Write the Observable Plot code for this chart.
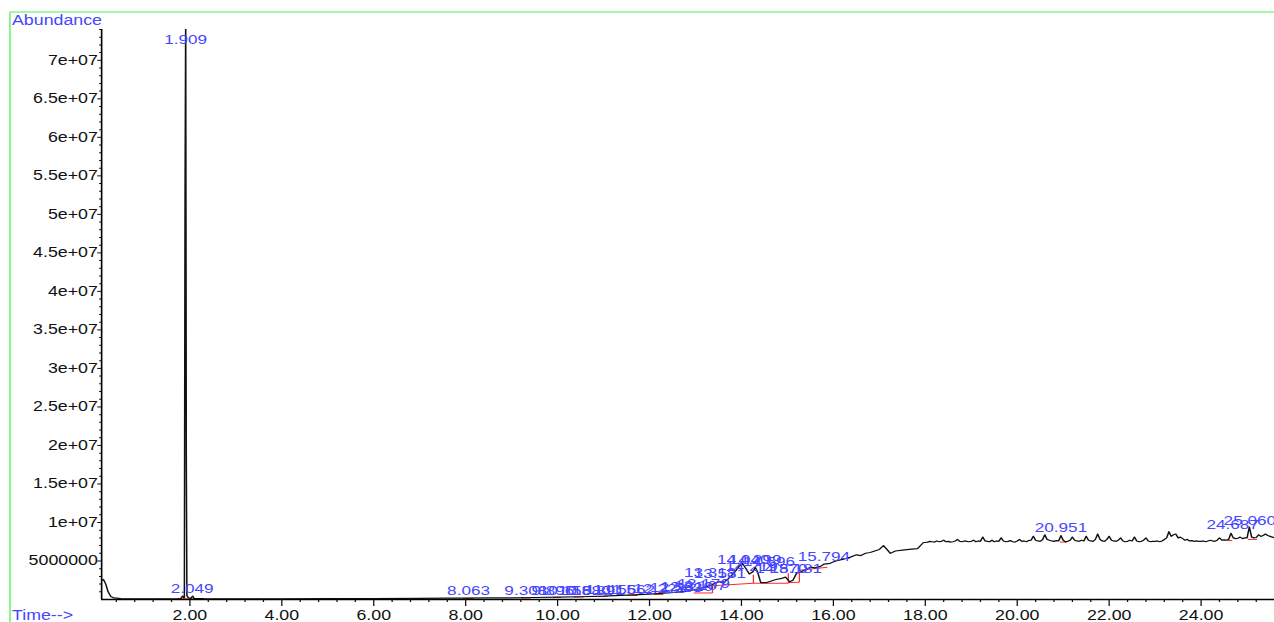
<!DOCTYPE html>
<html><head><meta charset="utf-8">
<script src="https://cdn.jsdelivr.net/npm/d3@7"></script>
<script src="https://cdn.jsdelivr.net/npm/@observablehq/plot@0.6"></script>
<style>html,body{margin:0;padding:0;background:#fff;overflow:hidden}</style>
</head><body><div id="chart"></div>
<script>
// ---- data (retention time in minutes, abundance in millions of counts) ----
const traceTime = [
  0.08,0.12,0.17,0.22,0.28,0.35,0.5,0.8,1.2,1.6,1.80,1.84,1.87,1.880,1.895,1.909,1.922,1.935,1.97,2.02,
  2.06,2.09,2.3,3.0,4.0,5.0,6.0,7.0,7.6,8.0,8.5,9.0,9.5,10.0,10.5,11.0,11.5,12.0,12.4,12.8,
  13.0,13.2,13.35,13.5,13.6,13.7,13.83,13.95,14.02,14.1,14.17,14.25,14.3,14.36,14.42,14.55,14.65,14.75,14.85,14.96,
  15.05,15.12,15.2,15.3,15.4,15.5,15.6,15.72,15.8,15.93,16.05,16.2,16.37,16.5,16.6,16.7,16.8,16.9,17.0,17.09,
  17.15,17.24,17.35,17.5,17.65,17.83,17.96,
  18.00,18.05,18.10,18.15,18.20,18.25,18.30,18.35,18.40,18.45,
  18.50,18.55,18.60,18.65,18.70,18.75,18.80,18.85,18.90,18.95,
  19.00,19.05,19.10,19.15,19.20,19.25,19.30,19.35,19.40,19.45,
  19.50,19.55,19.60,19.65,19.70,19.75,19.80,19.85,19.90,19.95,
  20.00,20.05,20.10,20.15,20.20,20.25,20.30,20.35,20.40,20.45,
  20.50,20.55,20.60,20.65,20.70,20.75,20.80,20.85,20.90,20.95,
  21.00,21.05,21.10,21.15,21.20,21.25,21.30,21.35,21.40,21.45,
  21.50,21.55,21.60,21.65,21.70,21.75,21.80,21.85,21.90,21.95,
  22.00,22.05,22.10,22.15,22.20,22.25,22.30,22.35,22.40,22.45,
  22.50,22.55,22.60,22.65,22.70,22.75,22.80,22.85,22.90,22.95,
  23.00,23.05,23.10,23.15,23.20,23.25,23.30,23.35,23.40,23.45,
  23.50,23.55,23.60,23.65,23.70,23.75,23.80,23.85,23.90,23.95,
  24.00,24.05,24.10,24.15,24.20,24.25,24.30,24.35,24.40,24.45,
  24.50,24.55,24.60,24.65,24.70,24.75,24.80,24.85,24.90,24.95,
  25.00,25.05,25.10,25.15,25.20,25.25,25.30,25.35,25.40,25.45,
  25.50,25.55,25.60
];
const traceAbundanceM = [
  2.5,2.6,2.0,1.0,0.4,0.2,0.12,0.1,0.1,0.1,0.12,0.45,0.2,0.3,52.7,76,18.5,0.5,0.2,0.15,
  0.45,0.15,0.12,0.1,0.1,0.12,0.12,0.15,0.17,0.18,0.2,0.22,0.26,0.3,0.36,0.44,0.58,0.7,0.85,1.05,
  1.3,1.6,1.9,2.3,2.2,2.6,3.4,4.3,4.7,4.0,3.3,3.6,4.2,3.4,2.2,2.2,2.4,2.6,2.7,2.9,
  2.3,2.5,3.4,3.6,3.9,4.2,4.1,4.3,4.6,4.7,5.0,5.2,5.5,5.8,5.7,6.0,6.1,6.3,6.5,7.0,
  6.6,6.0,6.3,6.4,6.5,6.6,7.4,
  7.40,7.45,7.55,7.50,7.45,7.60,7.50,7.55,7.70,7.50,
  7.55,7.45,7.50,7.60,7.80,7.55,7.50,7.60,7.55,7.50,
  7.55,7.70,7.50,7.60,7.55,8.10,7.60,7.55,7.50,7.70,
  7.50,7.60,7.55,8.00,7.60,7.50,7.55,7.65,7.50,7.45,
  7.60,7.80,7.55,7.60,7.50,7.65,7.70,8.20,7.70,7.60,
  7.55,7.75,8.40,7.80,7.70,7.60,7.55,7.65,7.60,8.30,
  7.70,7.50,7.55,7.70,8.10,7.70,7.60,7.55,7.70,7.60,
  8.20,7.70,7.60,7.55,7.80,8.50,7.80,7.60,7.55,7.80,
  8.20,7.70,7.60,7.55,7.70,8.00,7.60,7.50,7.55,7.70,
  7.60,8.10,7.60,7.50,7.55,7.70,8.00,7.60,7.50,7.55,
  7.55,7.60,7.50,7.60,7.80,8.00,8.80,8.20,8.40,8.50,
  8.00,8.10,7.90,7.70,7.80,7.60,7.65,7.55,7.60,7.55,
  7.55,7.60,7.50,7.60,7.70,7.60,7.55,7.70,8.00,7.70,
  7.75,7.70,7.80,8.60,8.00,7.90,7.95,8.10,7.90,8.00,
  8.00,9.40,8.10,8.00,8.05,8.40,8.20,8.30,8.50,8.30,
  8.20,8.10,8.00
];

// integrated peaks: label text, retention time, label height (millions)
const peakLabels = ["1.909","2.049","8.063","9.308","9.896","10.158","10.580","10.891","11.156","11.562",
  "12.223","12.583","12.810","13.107","13.179","13.318","13.531","14.040","14.299","14.219","14.596",
  "14.870","15.181","15.794","20.951","24.687","25.060"];
const peakTimes = [1.909,2.049,8.063,9.308,9.896,10.158,10.580,10.891,11.156,11.562,
  12.223,12.583,12.810,13.107,13.179,13.318,13.531,14.040,14.299,14.219,14.596,
  14.870,15.181,15.794,20.951,24.687,25.060];
const peakLabelHeightM = [72.1,0.78,0.52,0.52,0.52,0.52,0.55,0.58,0.65,0.72,
  0.85,0.98,1.1,1.25,1.45,2.95,2.75,4.55,4.55,3.7,4.3,
  3.4,3.5,5.06,8.8,9.1,9.7];

// integration baselines (red)
const redX1  = [1.72,7.95,9.20,9.90,10.35,10.87,11.52,12.09,12.96,13.37,13.37,14.26,14.26,15.02,15.02,15.26,15.26,20.93,24.57,25.02];
const redY1M = [0.10,0.15,0.20,0.27,0.32,0.40,0.52,0.66,0.85,0.85,1.80,2.10,2.10,2.10,2.20,2.25,3.80,7.45,7.65,7.80];
const redX2  = [2.12,8.17,9.41,10.07,10.57,11.09,11.74,12.30,13.37,13.37,14.26,14.26,15.02,15.02,15.26,15.26,15.87,21.08,24.68,25.22];
const redY2M = [0.10,0.15,0.20,0.27,0.32,0.40,0.52,0.66,0.85,1.80,2.10,3.20,2.10,3.40,2.25,3.60,4.20,7.45,7.65,7.80];

// axis ticks
const xMajor = [2,4,6,8,10,12,14,16,18,20,22,24];
const yMajor = [5e6,1e7,1.5e7,2e7,2.5e7,3e7,3.5e7,4e7,4.5e7,5e7,5.5e7,6e7,6.5e7,7e7];
const yTickLabels = ["5000000","1e+07","1.5e+07","2e+07","2.5e+07","3e+07","3.5e+07","4e+07","4.5e+07","5e+07","5.5e+07","6e+07","6.5e+07","7e+07"];
const xMinor = d3.range(1, 64).filter(i => i % 5 !== 0).map(i => +(i * 0.4).toFixed(1));
const yMinor = d3.range(1, 75).filter(i => i % 5 !== 0).map(i => i * 1e6);

// ---- build ----
const S = 1.27, W = 1274, H = 622, W0 = W / S;
const px = v => v / S;
const BLUE = "#4646ff";

const trace = traceTime.map((t, i) => ({t, a: traceAbundanceM[i] * 1e6}));
const peaks = peakLabels.map((s, i) => ({t: peakTimes[i], a: peakLabelHeightM[i] * 1e6, s}));
const reds = redX1.map((x1, i) => ({x1, y1: redY1M[i] * 1e6, x2: redX2[i], y2: redY2M[i] * 1e6}));

const chart = Plot.plot({
  width: W0, height: H,
  marginLeft: px(101), marginRight: 0, marginTop: 29, marginBottom: 23,
  style: {fontFamily: '"Liberation Sans", Arial, sans-serif', fontSize: "14px", color: "#111", background: "#fff"},
  x: {domain: [0.08, 25.6]},
  y: {domain: [0, 74e6]},
  marks: [
    Plot.link(reds, {x1: "x1", y1: "y1", x2: "x2", y2: "y2", stroke: "#ff2a2a", strokeWidth: 1}),
    Plot.line(trace, {x: "t", y: "a", stroke: "#111", strokeWidth: 1.2, clip: true}),
    Plot.text(peaks, {x: "t", y: "a", text: "s", fill: BLUE, fontSize: 13.5, lineAnchor: "bottom"}),
    Plot.ruleX([0.08], {stroke: "#000", strokeWidth: 1.3}),
    Plot.ruleY([0], {stroke: "#000", strokeWidth: 1.3}),
    Plot.axisX({ticks: xMajor, tickFormat: d => d.toFixed(2), tickSize: 7, tickPadding: 4, label: null}),
    Plot.axisX({ticks: xMinor, tickSize: 3, fill: "none", label: null}),
    Plot.axisY({ticks: yMajor, tickFormat: d => yTickLabels[yMajor.indexOf(d)], tickSize: 3, tickPadding: 0, label: null}),
    Plot.axisY({ticks: yMinor, tickSize: 1.5, fill: "none", label: null})
  ]
});

const svg = d3.select(chart);
svg.insert("path", ":first-child")
  .attr("d", `M${px(10)},${H + 5}V12H${W0 + 5}`)
  .attr("fill", "none").attr("stroke", "#8cf58c").attr("stroke-width", 1.6);
svg.append("text").attr("x", px(12)).attr("y", 25.5).attr("fill", BLUE)
  .attr("text-anchor", "start").attr("font-size", 14).text("Abundance");
svg.append("text").attr("x", px(12)).attr("y", 620).attr("fill", BLUE)
  .attr("text-anchor", "start").attr("font-size", 14).text("Time-->");

chart.setAttribute("width", W);
chart.setAttribute("height", H);
chart.setAttribute("preserveAspectRatio", "none");
chart.style.width = W + "px";
chart.style.height = H + "px";
chart.style.maxWidth = "none";
document.getElementById("chart").appendChild(chart);
</script></body></html>
